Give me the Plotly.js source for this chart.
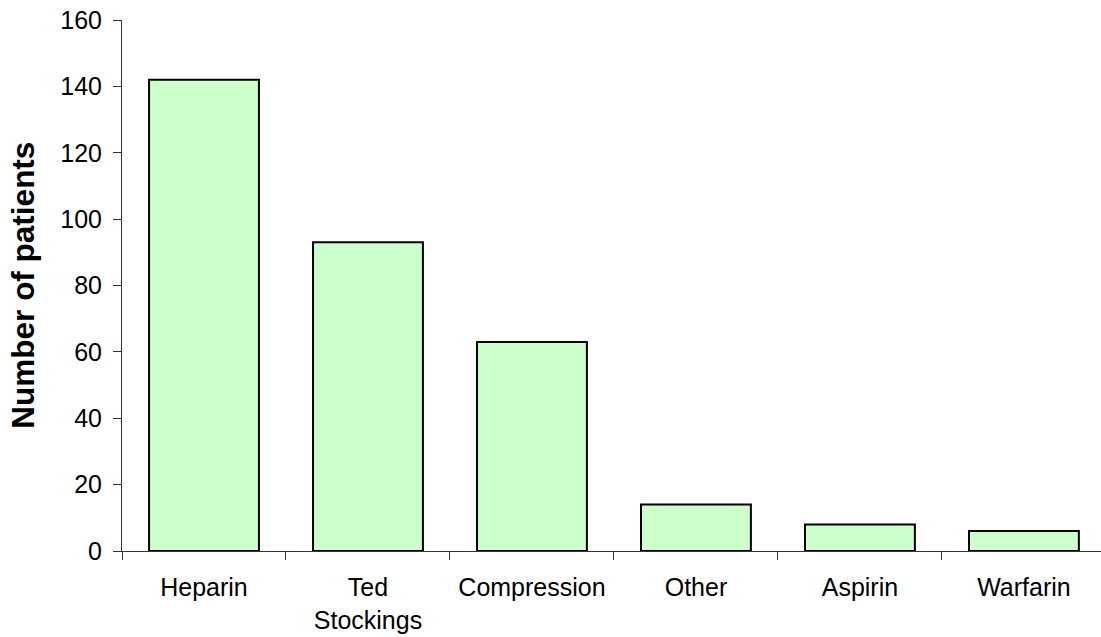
<!DOCTYPE html>
<html>
<head>
<meta charset="utf-8">
<script src="https://cdn.plot.ly/plotly-3.0.1.min.js"></script>
<style>
  html, body { margin: 0; padding: 0; background: #fff; overflow: hidden; }
  #chart { width: 1101px; height: 637px; }
</style>
</head>
<body>
<div id="chart"></div>
<script>
// Prophylaxis methods and the number of patients receiving each
const methods = ["Heparin", "Ted<br>Stockings", "Compression", "Other", "Aspirin", "Warfarin"];
const patients = [142, 93, 63, 14, 8, 6];
const yTicks = [0, 20, 40, 60, 80, 100, 120, 140, 160];

const font = { family: "Arial, 'Liberation Sans', sans-serif", size: 25, color: "#000" };

const trace = {
  type: "bar",
  x: methods,
  y: patients,
  width: 0.67,
  marker: { color: "#CCFFCC", line: { color: "#000", width: 2 } },
  hoverinfo: "x+y"
};

const layout = {
  width: 1101,
  height: 637,
  margin: { l: 122, r: 0, t: 20, b: 86 },
  paper_bgcolor: "#fff",
  plot_bgcolor: "#fff",
  font: font,
  showlegend: false,
  bargap: 0.33,
  xaxis: {
    type: "category",
    range: [-0.5, 5.47],
    showline: true, linecolor: "#333", linewidth: 1,
    ticks: "outside", tickson: "boundaries", ticklen: 8, tickcolor: "#333", tickwidth: 1,
    ticklabelstandoff: 14,
    showgrid: false, zeroline: false,
    tickfont: font
  },
  yaxis: {
    range: [0, 160],
    tickvals: yTicks,
    showline: true, linecolor: "#333", linewidth: 1,
    ticks: "outside", ticklen: 8, tickcolor: "#333", tickwidth: 1,
    ticklabelstandoff: 6,
    showgrid: false, zeroline: false,
    tickfont: font
  },
  annotations: [{
    text: "<b>Number of patients</b>",
    xref: "paper", yref: "paper",
    x: -0.102, y: 0.5,
    xanchor: "center", yanchor: "middle",
    textangle: -90,
    showarrow: false,
    font: { family: "Arial, 'Liberation Sans', sans-serif", size: 31.5, color: "#000" }
  }]
};

Plotly.newPlot("chart", [trace], layout, { displayModeBar: false, staticPlot: true });
</script>
</body>
</html>
